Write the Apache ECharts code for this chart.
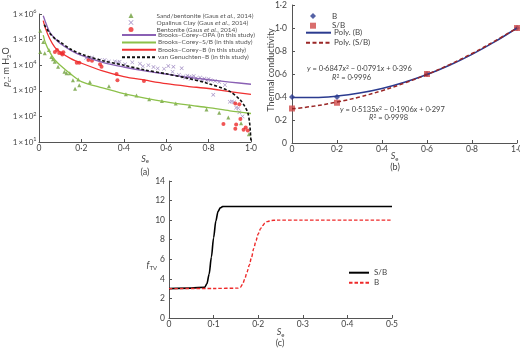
<!DOCTYPE html>
<html>
<head>
<meta charset="utf-8">
<script src="https://cdn.jsdelivr.net/npm/echarts@6/dist/echarts.min.js"></script>
<style>
  html, body { margin: 0; padding: 0; background: #fff; }
  #chart { width: 520px; height: 349px; }
</style>
</head>
<body>
<div id="chart"></div>
<script>
// ---- panel (a): capillary pressure vs Se ----
const seBC = [0.02, 0.03, 0.05, 0.075, 0.1, 0.15, 0.2, 0.3, 0.4, 0.5, 0.6, 0.7, 0.8, 0.9, 1.0]
const bcOpa = [8.5e5, 5e5, 2e5, 1.1e5, 7e4, 3.8e4, 2.4e4, 1.3e4, 8.5e3, 6e3, 4.5e3, 3.4e3, 2.7e3, 2.2e3, 1.8e3]
const bcSB = [1.5e5, 7.5e4, 3.3e4, 1.6e4, 1e4, 4.5e3, 2.3e3, 1.3e3, 780, 520, 370, 280, 220, 165, 130]
const bcB = [5.5e5, 2.8e5, 1.1e5, 5e4, 3.3e4, 1.8e4, 1.2e4, 6e3, 3.6e3, 2.6e3, 1.9e3, 1.5e3, 1.23e3, 930, 720]
const seVG = [0.025, 0.05, 0.075, 0.1, 0.15, 0.2, 0.3, 0.4, 0.5, 0.6, 0.7, 0.8, 0.9, 0.95, 0.97, 0.985, 0.993, 0.997, 1.0]
const vgB = [3.8e5, 1.8e5, 1.1e5, 8e4, 4.2e4, 2.7e4, 1.5e4, 1e4, 6.5e3, 4.6e3, 3.1e3, 1.9e3, 950, 430, 250, 140, 60, 25, 10]

const sandBent = [[0.006, 2.2e5], [0.006, 3.3e4], [0.02, 8e4], [0.027, 2.9e4], [0.047, 3.9e4], [0.058, 2.1e4],
  [0.066, 1.7e4], [0.074, 1.35e4], [0.09, 8.7e3], [0.12, 5.5e3], [0.13, 4.8e3], [0.145, 4.8e3], [0.16, 2.6e3],
  [0.17, 1.2e3], [0.185, 2.75e3], [0.19, 1.65e3], [0.24, 2.2e3], [0.33, 1.5e3], [0.41, 740], [0.46, 650],
  [0.52, 470], [0.58, 400], [0.645, 320], [0.71, 250], [0.79, 185], [0.85, 140], [0.893, 90], [0.953, 54], [0.99, 20]]
const opalinus = [[0.222, 1.9e4], [0.235, 1.8e4], [0.25, 2e4], [0.287, 1.6e4], [0.31, 1.6e4], [0.33, 1.4e4],
  [0.358, 1.4e4], [0.37, 1.3e4], [0.38, 1.35e4], [0.406, 1.1e4], [0.44, 1.3e4], [0.476, 1.15e4], [0.49, 9e3],
  [0.516, 1e4], [0.54, 8.5e3], [0.56, 7.5e3], [0.59, 7.2e3], [0.61, 9.3e3], [0.634, 8.7e3], [0.673, 7.6e3],
  [0.63, 5.5e3], [0.66, 4.2e3], [0.68, 3.6e3], [0.69, 3.2e3], [0.7, 3.9e3], [0.71, 3.5e3], [0.715, 2.9e3],
  [0.72, 3.4e3], [0.73, 3.8e3], [0.74, 3.1e3], [0.75, 2.8e3], [0.76, 3.3e3], [0.77, 2.7e3], [0.78, 3e3],
  [0.79, 2.5e3], [0.8, 2.9e3], [0.81, 2.6e3], [0.822, 700], [0.83, 2.4e3], [0.85, 2.2e3], [0.877, 1.7e3],
  [0.9, 370], [0.91, 380], [0.92, 360], [0.93, 220], [0.94, 210], [0.945, 145], [0.96, 100]]
const bentonite = [[0.075, 3.3e4], [0.085, 3.9e4], [0.095, 3.0e4], [0.107, 2.9e4], [0.11, 2.6e4], [0.115, 3.2e4],
  [0.178, 1.26e4], [0.19, 1.25e4], [0.233, 1.6e4], [0.25, 1.5e4], [0.288, 1.1e4], [0.295, 8.7e3], [0.366, 4.5e3],
  [0.37, 2.6e3], [0.495, 2.4e3], [0.87, 50], [0.926, 320], [0.926, 33], [0.93, 48], [0.945, 300], [0.95, 80],
  [0.965, 30], [0.975, 37], [0.985, 28]]

// ---- panel (b): thermal conductivity ----
const sePts = [0, 0.2, 0.6, 1.0]
const kB = [0.4, 0.4, 0.6, 1.0]
const kSB = [0.3, 0.35, 0.6, 1.0]
const seFit = [0, 0.1, 0.2, 0.3, 0.4, 0.5, 0.6, 0.7, 0.8, 0.9, 1.0]
const fitB = [0.396, 0.395, 0.408, 0.434, 0.474, 0.528, 0.595, 0.676, 0.771, 0.879, 1.0]
const fitSB = [0.297, 0.321, 0.356, 0.4, 0.455, 0.521, 0.596, 0.682, 0.778, 0.885, 1.0]

// ---- panel (c): fTV ----
const seTvSB = [0, 0.05, 0.08, 0.085, 0.09, 0.095, 0.1, 0.105, 0.11, 0.115, 0.12, 0.125, 0.2, 0.3, 0.4, 0.5]
const fTvSB = [3.0, 3.05, 3.15, 3.5, 4.5, 6.2, 8.2, 9.9, 10.9, 11.25, 11.38, 11.4, 11.4, 11.4, 11.4, 11.4]
const seTvB = [0, 0.1, 0.155, 0.16, 0.165, 0.17, 0.175, 0.18, 0.185, 0.19, 0.195, 0.2, 0.205, 0.21, 0.215, 0.22, 0.23, 0.24, 0.3, 0.4, 0.5]
const fTvB = [3.0, 3.02, 3.05, 3.15, 3.45, 4.0, 4.7, 5.4, 6.2, 7.1, 7.9, 8.6, 9.1, 9.45, 9.7, 9.85, 9.97, 10.0, 10.0, 10.0, 10.0]

const FONT = 'Lato'
const TXT = '#444'
const AX = '#555'
const NOFILL = { color: 'rgba(0,0,0,0)', borderColor: 'rgba(0,0,0,0)', borderWidth: 0 }

const pair = (xs, ys) => xs.map((x, i) => [x, ys[i]])
const dot = v => v === 0 ? '0' : v.toFixed(1).replace('.', '·')

const rich = {
  i: { fontStyle: 'italic', fontFamily: FONT, fontSize: 9, color: TXT, lineHeight: 11 },
  sub: { fontFamily: FONT, fontSize: 6, color: TXT, verticalAlign: 'bottom', lineHeight: 7 },
  sup: { fontFamily: FONT, fontSize: 5.5, color: TXT, verticalAlign: 'top', lineHeight: 7 }
}
const eqRich = {
  i: { fontStyle: 'italic', fontFamily: FONT, fontSize: 7.5, fill: TXT, lineHeight: 9 },
  sup: { fontFamily: FONT, fontSize: 5, fill: TXT, verticalAlign: 'top', lineHeight: 6 }
}

function axisBase(gridIndex, margin, nameStyle) {
  return {
    gridIndex: gridIndex,
    nameMoveOverlap: false,
    axisLine: { show: true, lineStyle: { color: AX, width: 1 } },
    axisTick: { show: true, inside: true, length: 3, lineStyle: { color: AX } },
    axisLabel: { fontFamily: FONT, fontSize: 8.5, color: TXT, margin: margin },
    splitLine: { show: false },
    nameTextStyle: Object.assign({ fontFamily: FONT, fontSize: 9, color: TXT, rich: rich }, nameStyle || {})
  }
}

function eqText(x, y, text) {
  return {
    type: 'text', x: x, y: y,
    style: { text: text, fontFamily: FONT, fontSize: 7.5, fill: TXT, verticalAlign: 'middle', rich: eqRich }
  }
}

function caption(x, y, text) {
  return {
    type: 'text', x: x, y: y,
    style: { text: text, fontFamily: FONT, fontSize: 9, fill: TXT, align: 'center', verticalAlign: 'middle' }
  }
}

const myChart = echarts.init(document.getElementById('chart'), null, { renderer: 'canvas' })

const ax0 = axisBase(0, 2)
const ax1 = axisBase(1, 2, { padding: [0, 20, 0, 0] })
const ax2 = axisBase(2, 2)
const ay0 = axisBase(0, 2.5, { padding: [0, 0, 0, 22] })
const ay1 = axisBase(1, 5, { padding: [0, 0, 0, 8] })
const ay2 = axisBase(2, 4, { padding: [32, 0, 0, 0] })

const option = {
  animation: false,
  backgroundColor: '#fff',
  textStyle: { fontFamily: FONT },
  grid: [
    { left: 39, top: 14, width: 212, height: 128, containLabel: false, outerBoundsMode: 'none' },
    { left: 292, top: 5, width: 225, height: 138, containLabel: false, outerBoundsMode: 'none' },
    { left: 169, top: 181, width: 223, height: 137, containLabel: false, outerBoundsMode: 'none' }
  ],
  xAxis: [
    Object.assign(ax0, {
      type: 'value', min: 0, max: 1, interval: 0.2,
      name: '{i|S}{sub|e}', nameLocation: 'middle', nameGap: 11.5,
      axisLabel: Object.assign(ax0.axisLabel, { formatter: dot })
    }),
    Object.assign(ax1, {
      type: 'value', min: 0, max: 1, interval: 0.2,
      name: '{i|S}{sub|e}', nameLocation: 'middle', nameGap: 8,
      axisLabel: Object.assign(ax1.axisLabel, { formatter: dot })
    }),
    Object.assign(ax2, {
      type: 'value', min: 0, max: 0.5, interval: 0.1,
      name: '{i|S}{sub|e}', nameLocation: 'middle', nameGap: 9,
      axisLabel: Object.assign(ax2.axisLabel, { formatter: dot })
    })
  ],
  yAxis: [
    Object.assign(ay0, {
      type: 'log', logBase: 10, min: 10, max: 1e6,
      name: '{i|p}{sub|c}: m H{sub|2}O', nameLocation: 'middle', nameGap: 27, nameRotate: 90,
      axisLabel: Object.assign(ay0.axisLabel, {
        fontSize: 8, lineHeight: 11,
        formatter: v => '1\u2009×\u200910{sup|' + Math.round(Math.log10(v)) + '}',
        rich: rich
      })
    }),
    Object.assign(ay1, {
      type: 'value', min: 0, max: 1.2, interval: 0.2,
      name: 'Thermal conductivity', nameLocation: 'middle', nameGap: 16, nameRotate: 90,
      axisLabel: Object.assign(ay1.axisLabel, { formatter: dot })
    }),
    Object.assign(ay2, {
      type: 'value', min: 0, max: 14, interval: 2,
      name: '{i|f}{sub|TV}', nameLocation: 'middle', nameGap: 12, nameRotate: 0
    })
  ],
  legend: [
    {
      orient: 'vertical', left: 128.5, top: 12, padding: 0,
      itemWidth: 5, itemHeight: 5, itemGap: 0,
      data: ['Sand/bentonite (Gaus et al., 2014)', 'Opalinus Clay (Gaus et al., 2014)',
        'Bentonite (Gaus et al., 2014)'],
      formatter: name => name.replace('et al.', '{i|et al.}'),
      textStyle: {
        fontFamily: FONT, fontSize: 6.5, color: '#555', lineHeight: 6, padding: [0, 0, 0, 18],
        rich: { i: { fontStyle: 'italic', fontFamily: FONT, fontSize: 6.5, color: '#555', lineHeight: 6 } }
      }
    },
    {
      orient: 'vertical', left: 121, top: 31.5, padding: 0,
      itemWidth: 34, itemHeight: 5, itemGap: 0.4,
      itemStyle: NOFILL,
      data: ['Brooks–Corey–OPA (in this study)', 'Brooks–Corey–S/B (in this study)',
        'Brooks–Corey–B (in this study)', 'van Genuchten–B (in this study)'],
      textStyle: { fontFamily: FONT, fontSize: 6.5, color: '#555', lineHeight: 6, padding: [0, 0, 0, -3] }
    },
    {
      orient: 'vertical', left: 310, top: 12, padding: 0,
      itemWidth: 6, itemHeight: 6, itemGap: 1.7,
      data: ['B', 'S/B'],
      textStyle: { fontFamily: FONT, fontSize: 8, color: TXT, lineHeight: 6, padding: [0, 0, 0, 11] }
    },
    {
      orient: 'vertical', left: 305, top: 28.7, padding: 0,
      itemWidth: 25, itemHeight: 7, itemGap: 2,
      itemStyle: NOFILL,
      data: ['Poly. (B)', 'Poly. (S/B)'],
      textStyle: { fontFamily: FONT, fontSize: 8, color: TXT, lineHeight: 8, padding: [0, 0, 0, -2] }
    },
    {
      orient: 'vertical', left: 348, top: 268.7, padding: 0,
      itemWidth: 20, itemHeight: 7, itemGap: 2,
      itemStyle: NOFILL,
      data: ['c-S/B', 'c-B'],
      formatter: name => name.replace('c-', ''),
      textStyle: { fontFamily: FONT, fontSize: 8, color: TXT, lineHeight: 8 }
    }
  ],
  series: [
    // (a)
    {
      name: 'Sand/bentonite (Gaus et al., 2014)', type: 'scatter', xAxisIndex: 0, yAxisIndex: 0,
      data: sandBent, symbol: 'triangle', symbolSize: 4, itemStyle: { color: '#6f9f3c' }
    },
    {
      name: 'Opalinus Clay (Gaus et al., 2014)', type: 'scatter', xAxisIndex: 0, yAxisIndex: 0,
      data: opalinus, symbolSize: 4,
      symbol: 'path://M0,1 L1,0 L5,4 L9,0 L10,1 L6,5 L10,9 L9,10 L5,6 L1,10 L0,9 L4,5 Z',
      itemStyle: { color: '#8a70b4' }
    },
    {
      name: 'Bentonite (Gaus et al., 2014)', type: 'scatter', xAxisIndex: 0, yAxisIndex: 0,
      data: bentonite, symbol: 'circle', symbolSize: 4, itemStyle: { color: '#ec2a2a' }
    },
    {
      name: 'Brooks–Corey–OPA (in this study)', type: 'line', xAxisIndex: 0, yAxisIndex: 0,
      data: pair(seBC, bcOpa), smooth: 0.3, symbol: 'none',
      lineStyle: { color: '#8a60b4', width: 1.3 }, itemStyle: { color: '#8a60b4' }
    },
    {
      name: 'Brooks–Corey–S/B (in this study)', type: 'line', xAxisIndex: 0, yAxisIndex: 0,
      data: pair(seBC, bcSB), smooth: 0.3, symbol: 'none',
      lineStyle: { color: '#8cc04a', width: 1.3 }, itemStyle: { color: '#8cc04a' }
    },
    {
      name: 'Brooks–Corey–B (in this study)', type: 'line', xAxisIndex: 0, yAxisIndex: 0,
      data: pair(seBC, bcB), smooth: 0.3, symbol: 'none',
      lineStyle: { color: '#f03030', width: 1.3 }, itemStyle: { color: '#f03030' }
    },
    {
      name: 'van Genuchten–B (in this study)', type: 'line', xAxisIndex: 0, yAxisIndex: 0,
      data: pair(seVG, vgB), smooth: 0.3, symbol: 'none',
      lineStyle: { color: '#111', width: 1.6, type: [3, 2] }, itemStyle: { color: '#111' }
    },
    // (b)
    {
      name: 'Poly. (B)', type: 'line', xAxisIndex: 1, yAxisIndex: 1,
      data: pair(seFit, fitB), smooth: 0.4, symbol: 'none',
      lineStyle: { color: '#2b3b8f', width: 1.5 }, itemStyle: { color: '#2b3b8f' }
    },
    {
      name: 'Poly. (S/B)', type: 'line', xAxisIndex: 1, yAxisIndex: 1,
      data: pair(seFit, fitSB), smooth: 0.4, symbol: 'none',
      lineStyle: { color: '#9a2626', width: 1.5, type: [4, 2.5] }, itemStyle: { color: '#9a2626' }
    },
    {
      name: 'B', type: 'scatter', xAxisIndex: 1, yAxisIndex: 1,
      data: pair(sePts, kB), symbol: 'diamond', symbolSize: 6, itemStyle: { color: '#2b3b8f' }
    },
    {
      name: 'S/B', type: 'scatter', xAxisIndex: 1, yAxisIndex: 1,
      data: pair(sePts, kSB), symbol: 'rect', symbolSize: 6, itemStyle: { color: '#cf4a48' }
    },
    // (c)
    {
      name: 'c-S/B', type: 'line', xAxisIndex: 2, yAxisIndex: 2,
      data: pair(seTvSB, fTvSB), smooth: 0.3, smoothMonotone: 'x', symbol: 'none',
      lineStyle: { color: '#000', width: 1.6 }, itemStyle: { color: '#000' }
    },
    {
      name: 'c-B', type: 'line', xAxisIndex: 2, yAxisIndex: 2,
      data: pair(seTvB, fTvB), smooth: 0.3, smoothMonotone: 'x', symbol: 'none',
      lineStyle: { color: '#ee2a2a', width: 1.4, type: [3.5, 2] }, itemStyle: { color: '#ee2a2a' }
    }
  ],
  graphic: [
    caption(145, 172, '(a)'),
    caption(395, 167, '(b)'),
    caption(280, 343, '(c)'),
    eqText(307, 69, '{i|y} = 0·6847{i|x}{sup|2} − 0·0791{i|x} + 0·396'),
    eqText(332, 78, '{i|R}{sup|2} = 0·9996'),
    eqText(340, 110, '{i|y} = 0·5135{i|x}{sup|2} − 0·1906{i|x} + 0·297'),
    eqText(369, 118, '{i|R}{sup|2} = 0·9998')
  ]
}

option && myChart.setOption(option)
</script>
</body>
</html>
